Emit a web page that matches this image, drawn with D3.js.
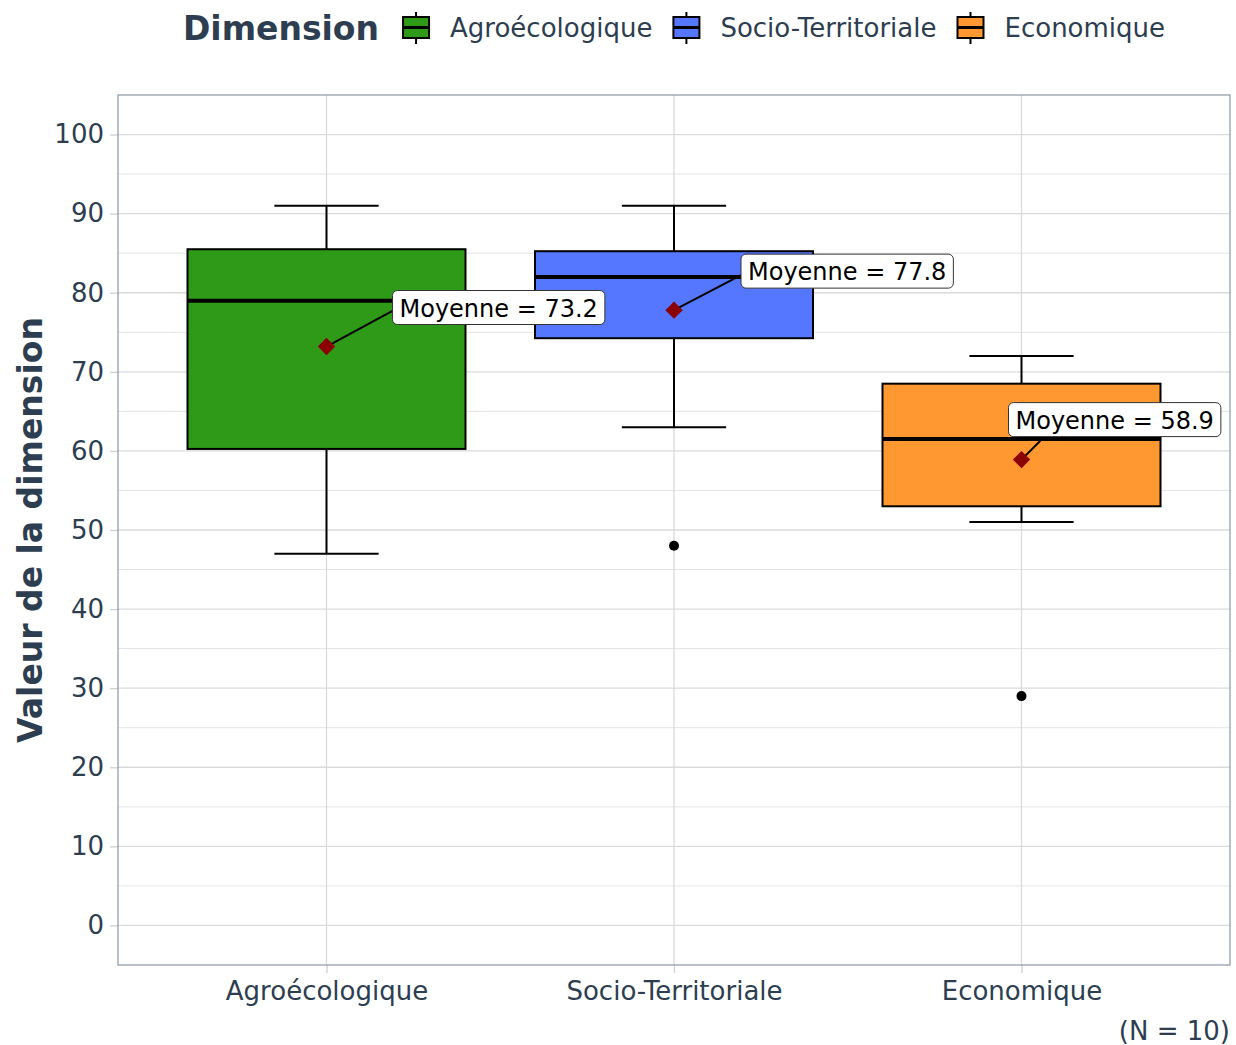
<!DOCTYPE html>
<html>
<head>
<meta charset="utf-8">
<script src="https://cdn.jsdelivr.net/npm/d3@7"></script>
<style>
  body { margin: 0; background: #ffffff; }
  text { font-family: "DejaVu Sans", sans-serif; }
</style>
</head>
<body>
<div id="chart"></div>
<script>
// données (résumé des boîtes)
const categories = ["Agroécologique", "Socio-Territoriale", "Economique"];
const whiskerLow = [47, 63, 51];
const q1Values = [60.25, 74.25, 53];
const medians = [79, 82, 61.5];
const q3Values = [85.5, 85.25, 68.5];
const whiskerHigh = [91, 91, 72];
const outliers = [[], [48], [29]];
const means = [73.2, 77.8, 58.9];
const yTicks = [0, 10, 20, 30, 40, 50, 60, 70, 80, 90, 100];
const nObs = 10;

const colors = ["#2e9a17", "#5577ff", "#ff9830"];
const textColor = "#2c3e50";

const width = 1236, height = 1045;
const margin = { top: 95, right: 6, bottom: 80, left: 118 };
const plotW = width - margin.left - margin.right;
const plotH = height - margin.top - margin.bottom;

const svg = d3.select("#chart").append("svg")
    .attr("width", width)
    .attr("height", height);

// échelles
const y = d3.scaleLinear().domain([-5, 105]).range([plotH, 0]);
const x = d3.scaleLinear().domain([0.4, 3.6]).range([0, plotW]);
const xc = i => x(i + 1);
const unit = x(1) - x(0);

const g = svg.append("g").attr("transform", `translate(${margin.left},${margin.top})`);

// grille mineure
const minor = d3.range(-5, 106, 10).filter(v => v > -5 && v < 105);
g.append("g").selectAll("line").data(minor).join("line")
    .attr("x1", 0).attr("x2", plotW)
    .attr("y1", d => y(d)).attr("y2", d => y(d))
    .attr("stroke", "#e3e3e3").attr("stroke-width", 1);
// grille majeure
g.append("g").selectAll("line").data(yTicks).join("line")
    .attr("x1", 0).attr("x2", plotW)
    .attr("y1", d => y(d)).attr("y2", d => y(d))
    .attr("stroke", "#dadada").attr("stroke-width", 1.3);
g.append("g").selectAll("line").data(categories).join("line")
    .attr("x1", (d, i) => xc(i)).attr("x2", (d, i) => xc(i))
    .attr("y1", 0).attr("y2", plotH)
    .attr("stroke", "#dadada").attr("stroke-width", 1.3);

// axes
const yAxis = g.append("g")
    .call(d3.axisLeft(y).tickValues(yTicks).tickSize(8).tickPadding(6));
yAxis.select(".domain").remove();
yAxis.selectAll("line").attr("stroke", "#d0d0d0").attr("stroke-width", 1.3);
yAxis.selectAll("text").attr("fill", textColor).attr("font-size", 26)
    .attr("font-family", "DejaVu Sans");

const xAxis = g.append("g").attr("transform", `translate(0,${plotH})`)
    .call(d3.axisBottom(x).tickValues([1, 2, 3]).tickFormat(d => categories[d - 1])
        .tickSize(8).tickPadding(5));
xAxis.select(".domain").remove();
xAxis.selectAll("line").attr("stroke", "#d0d0d0").attr("stroke-width", 1.3);
xAxis.selectAll("text").attr("fill", textColor).attr("font-size", 26)
    .attr("font-family", "DejaVu Sans").attr("dy", "0.85em");

// boîtes
const boxW = 0.8 * unit;
const capW = 0.3 * unit;
const boxes = g.append("g").selectAll("g").data(categories).join("g");

boxes.append("line")
    .attr("x1", (d, i) => xc(i)).attr("x2", (d, i) => xc(i))
    .attr("y1", (d, i) => y(whiskerHigh[i])).attr("y2", (d, i) => y(q3Values[i]))
    .attr("stroke", "#000").attr("stroke-width", 2);
boxes.append("line")
    .attr("x1", (d, i) => xc(i)).attr("x2", (d, i) => xc(i))
    .attr("y1", (d, i) => y(whiskerLow[i])).attr("y2", (d, i) => y(q1Values[i]))
    .attr("stroke", "#000").attr("stroke-width", 2);
boxes.append("line")
    .attr("x1", (d, i) => xc(i) - capW / 2).attr("x2", (d, i) => xc(i) + capW / 2)
    .attr("y1", (d, i) => y(whiskerHigh[i])).attr("y2", (d, i) => y(whiskerHigh[i]))
    .attr("stroke", "#000").attr("stroke-width", 2);
boxes.append("line")
    .attr("x1", (d, i) => xc(i) - capW / 2).attr("x2", (d, i) => xc(i) + capW / 2)
    .attr("y1", (d, i) => y(whiskerLow[i])).attr("y2", (d, i) => y(whiskerLow[i]))
    .attr("stroke", "#000").attr("stroke-width", 2);
boxes.append("rect")
    .attr("x", (d, i) => xc(i) - boxW / 2)
    .attr("y", (d, i) => y(q3Values[i]))
    .attr("width", boxW)
    .attr("height", (d, i) => y(q1Values[i]) - y(q3Values[i]))
    .attr("fill", (d, i) => colors[i])
    .attr("stroke", "#000").attr("stroke-width", 2);
boxes.append("line")
    .attr("x1", (d, i) => xc(i) - boxW / 2).attr("x2", (d, i) => xc(i) + boxW / 2)
    .attr("y1", (d, i) => y(medians[i])).attr("y2", (d, i) => y(medians[i]))
    .attr("stroke", "#000").attr("stroke-width", 4);

// valeurs aberrantes
boxes.each(function(d, i) {
    d3.select(this).selectAll("circle").data(outliers[i]).join("circle")
        .attr("cx", xc(i)).attr("cy", v => y(v)).attr("r", 5).attr("fill", "#000");
});

// étiquettes de moyenne (décalages style ggrepel)
const labelOffsets = [
    { dx: 66, dy: -39, fx: 0, fy: 0.6 },
    { dx: 67, dy: -39, fx: 0, fy: 0.62 },
    { dx: -13, dy: -40, fx: 0.15, fy: 1.12 }
];
const labelG = g.append("g");
categories.forEach((c, i) => {
    const px = xc(i), py = y(means[i]);
    const o = labelOffsets[i];
    const t = labelG.append("text")
        .attr("font-size", 24).attr("fill", "#000")
        .attr("dominant-baseline", "central")
        .text(`Moyenne = ${d3.format(".1f")(means[i])}`);
    const tw = t.node().getComputedTextLength();
    const bw = tw + 14, bh = 34;
    const bx = px + o.dx, by = py + o.dy - bh / 2;
    const ex = bx + o.fx * bw, ey = by + o.fy * bh;
    labelG.insert("line", "text")
        .attr("x1", px).attr("y1", py).attr("x2", ex).attr("y2", ey)
        .attr("stroke", "#000").attr("stroke-width", 2);
    labelG.insert("rect", "text")
        .attr("x", bx).attr("y", by).attr("width", bw).attr("height", bh)
        .attr("rx", 5).attr("fill", "#fff").attr("stroke", "#333").attr("stroke-width", 1);
    t.attr("x", bx + 7).attr("y", by + bh / 2 + 1);
});

// points moyens (losanges)
g.append("g").selectAll("path").data(means).join("path")
    .attr("d", d3.symbol().type(d3.symbolSquare).size(150))
    .attr("transform", (d, i) => `translate(${xc(i)},${y(d)}) rotate(45)`)
    .attr("fill", "#8b0000");

// cadre du panneau
g.append("rect")
    .attr("width", plotW).attr("height", plotH)
    .attr("fill", "none").attr("stroke", "#8c96a2").attr("stroke-width", 1.2);

// titre de l'axe y
svg.append("text")
    .attr("transform", `translate(30,${margin.top + plotH / 2}) rotate(-90)`)
    .attr("text-anchor", "middle").attr("dominant-baseline", "central")
    .attr("font-size", 33).attr("font-weight", "bold").attr("fill", textColor)
    .text("Valeur de la dimension");

// légende
const legend = svg.append("g");
const legTitle = legend.append("text")
    .attr("font-size", 33).attr("font-weight", "bold").attr("fill", textColor)
    .attr("dominant-baseline", "central").attr("y", 28)
    .text("Dimension");
let lx = legTitle.node().getComputedTextLength() + 23;
categories.forEach((c, i) => {
    const k = legend.append("g").attr("transform", `translate(${lx},0)`);
    k.append("line").attr("x1", 14).attr("x2", 14).attr("y1", 12).attr("y2", 44)
        .attr("stroke", "#000").attr("stroke-width", 2);
    k.append("rect").attr("x", 1).attr("y", 17).attr("width", 26).attr("height", 21)
        .attr("fill", colors[i]).attr("stroke", "#000").attr("stroke-width", 2);
    k.append("line").attr("x1", 1).attr("x2", 27).attr("y1", 27.5).attr("y2", 27.5)
        .attr("stroke", "#000").attr("stroke-width", 3);
    const t = k.append("text").attr("x", 48).attr("y", 28)
        .attr("dominant-baseline", "central")
        .attr("font-size", 26).attr("fill", textColor).text(c);
    lx += 48 + t.node().getComputedTextLength() + 20;
});
const legW = lx - 20;
legend.attr("transform", `translate(${margin.left + plotW / 2 - legW / 2},0)`);

// légende (N)
svg.append("text")
    .attr("x", margin.left + plotW).attr("y", 1031)
    .attr("text-anchor", "end").attr("dominant-baseline", "central")
    .attr("font-size", 26).attr("fill", textColor)
    .text(`(N = ${nObs})`);
</script>
</body>
</html>
